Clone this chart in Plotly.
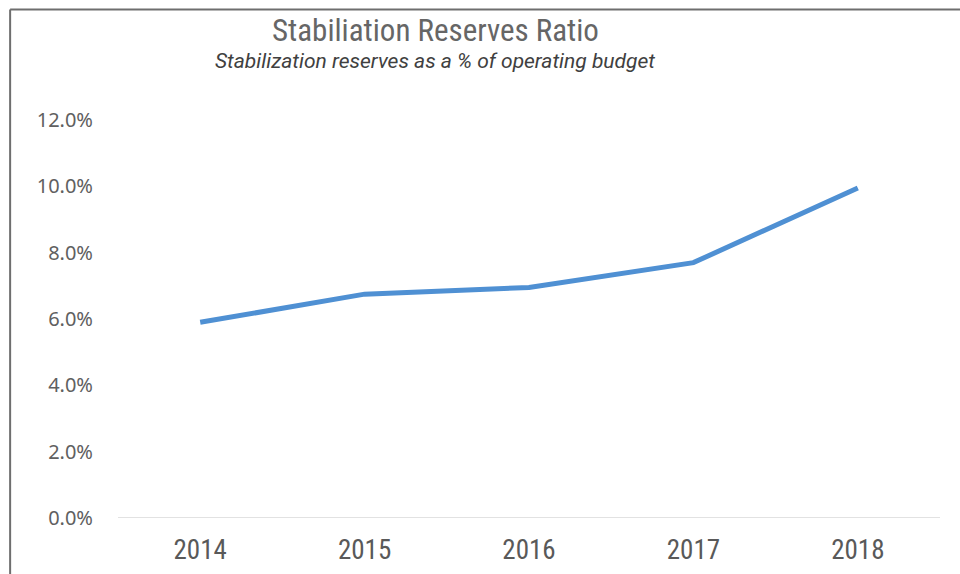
import plotly.graph_objects as go

# Stabilization reserves as a share of operating budget, by fiscal year
years = [2014, 2015, 2016, 2017, 2018]
reserve_ratio = [5.9, 6.75, 6.95, 7.7, 9.95]
y_ticks = [0, 2, 4, 6, 8, 10, 12]
y_tick_labels = ["0.0%", "2.0%", "4.0%", "6.0%", "8.0%", "10.0%", "12.0%"]

title_text = "Stabiliation Reserves Ratio"
subtitle_text = "Stabilization reserves as a % of operating budget"

W, H = 960, 574
L, R, T, B = 117.5, 19.5, 120, 56
pw, ph = W - L - R, H - T - B


def px(x):
    return (x - L) / pw


def py(y):
    return (H - B - y) / ph


narrow = "Roboto Condensed, Liberation Sans Narrow, Arial Narrow, sans-serif"

fig = go.Figure()
fig.add_trace(go.Scatter(
    x=years, y=reserve_ratio, mode="lines",
    line=dict(color="#4f90d3", width=5),
    hoverinfo="x+y",
))

fig.update_layout(
    width=W, height=H,
    margin=dict(l=L, r=R, t=T, b=B, autoexpand=False),
    paper_bgcolor="white", plot_bgcolor="white",
    showlegend=False,
    xaxis=dict(
        range=[2013.5, 2018.5], tickvals=years, ticktext=[str(y) for y in years],
        showgrid=False, zeroline=False, showline=False, ticks="",
        automargin=False, ticklabelstandoff=13,
        tickfont=dict(family=narrow, size=27, color="#595959"),
    ),
    yaxis=dict(
        range=[0, 12], tickvals=y_ticks, ticktext=y_tick_labels,
        showgrid=False, zeroline=False, showline=False, ticks="",
        automargin=False, ticklabelstandoff=24,
        tickfont=dict(family="Noto Sans, sans-serif", size=20, color="#606060"),
    ),
    shapes=[
        # category-axis baseline
        dict(type="line", xref="paper", yref="y", x0=0, x1=1, y0=0, y1=0,
             line=dict(color="#d9d9d9", width=1.5)),
        # outer frame
        dict(type="line", xref="paper", yref="paper",
             x0=px(9.5), x1=px(975), y0=py(9.5), y1=py(9.5),
             line=dict(color="#6e6e6e", width=2)),
        dict(type="line", xref="paper", yref="paper",
             x0=px(9.5), x1=px(9.5), y0=py(9.5), y1=py(590),
             line=dict(color="#6e6e6e", width=2)),
    ],
    annotations=[
        dict(text=title_text, xref="paper", yref="paper", x=px(435), y=py(31),
             xanchor="center", yanchor="middle", showarrow=False,
             font=dict(family=narrow, size=31, color="#666666")),
        dict(text="<i>" + subtitle_text + "</i>", xref="paper", yref="paper",
             x=px(435), y=py(61), xanchor="center", yanchor="middle", showarrow=False,
             font=dict(family="Roboto, sans-serif", size=21, color="#404040")),
    ],
)

fig.write_html("out.html")
